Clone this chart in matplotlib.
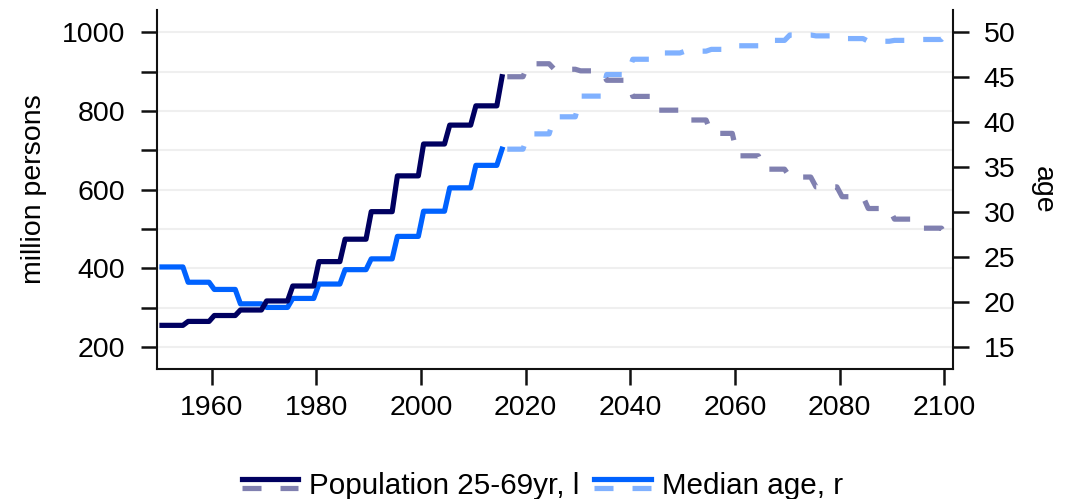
import numpy as np
import matplotlib
matplotlib.use("Agg")
import matplotlib.pyplot as plt
from matplotlib.legend_handler import HandlerBase
from matplotlib.lines import Line2D

plt.rcParams["font.family"] = ["Liberation Sans", "DejaVu Sans"]

# five-year period values (estimates up to 2015, projections afterwards)
PERIOD_START = np.arange(1950, 2101, 5)
POP_25_69 = [255, 265, 280, 294, 317, 355, 417, 474, 544, 635, 716, 764, 813,
             887, 920, 906, 902, 878, 837, 802, 777, 743, 686, 652, 632, 607,
             582, 552, 525, 502, 478]  # million persons
MEDIAN_AGE = [23.9, 22.2, 21.4, 19.8, 19.4, 20.4, 22.0, 23.6, 24.8, 27.3, 30.1,
              32.7, 35.2, 37.0, 38.7, 40.6, 42.9, 45.3, 47.0, 47.7, 47.9, 48.1,
              48.5, 49.1, 49.7, 49.6, 49.3, 49.0, 49.1, 49.2, 49.8]  # years
LAST_ACTUAL_YEAR = 2015

YEAR_TICKS = np.arange(1960, 2101, 20)
POP_TICKS = [200, 400, 600, 800, 1000]
POP_MINOR_TICKS = [300, 500, 700, 900]
AGE_TICKS = np.arange(15, 51, 5)

LABELS = ["Population 25-69yr, l", "Median age, r"]

NAVY = "#000060"
NAVY_LIGHT = "#8080b0"
BLUE = "#0062ff"
BLUE_LIGHT = "#80b1ff"
LW = 3.75
DASHES = (3.65, 3.65)
FS = 20.5
LEGEND_FS = 21.3


def annual(values):
    """Hold each period value for the five years of its period."""
    years = np.arange(PERIOD_START[0], PERIOD_START[-1] + 1)
    idx = (years - PERIOD_START[0]) // 5
    return years, np.asarray(values, dtype=float)[idx]


class SolidOverDashed(HandlerBase):
    """Legend key: estimate line on top, projection line underneath."""

    def create_artists(self, legend, orig_handle, xdescent, ydescent,
                       width, height, fontsize, trans):
        yc = (height - ydescent) / 2
        artists = []
        for line, dy in zip(orig_handle, (3.2, -3.2)):
            key = Line2D([-xdescent, -xdescent + width], [yc + dy, yc + dy])
            self.update_prop(key, line, legend)
            key.set_transform(trans)
            artists.append(key)
        return artists


years, pop = annual(POP_25_69)
_, age = annual(MEDIAN_AGE)
x = years + 0.5  # annual values sit at mid-year
act = years <= LAST_ACTUAL_YEAR
proj = years > LAST_ACTUAL_YEAR

fig = plt.figure(figsize=(10.67, 4.99), dpi=100)
ax = fig.add_axes([0.1469, 0.2605, 0.7458, 0.7195])
ax2 = ax.twinx()

# population drawn in the left-axis scale but on the twin, so it sits over the age lines
age_a, = ax2.plot(x[act], age[act], color=BLUE, lw=LW, zorder=2)
age_p, = ax2.plot(x[proj], age[proj], color=BLUE_LIGHT, lw=LW, dashes=DASHES, zorder=2)
pop_a, = ax2.plot(x[act], pop[act], color=NAVY, lw=LW, zorder=3, transform=ax.transData)
pop_p, = ax2.plot(x[proj], pop[proj], color=NAVY_LIGHT, lw=LW, dashes=DASHES,
                  zorder=3, transform=ax.transData)

ax.set_xlim(1949.5, 2101.6)
ax.set_ylim(144, 1056.7)
ax2.set_ylim(12.55, 52.48)

ax.set_xticks(YEAR_TICKS)
ax.set_yticks(POP_TICKS)
ax.set_yticks(POP_MINOR_TICKS, minor=True)
ax2.set_yticks(AGE_TICKS)

ax.grid(axis="y", which="both", color="#efefef", lw=1.5)
ax.set_axisbelow(True)

for s in ("top", "right"):
    ax.spines[s].set_visible(False)
for s in ("top", "left", "bottom"):
    ax2.spines[s].set_visible(False)
for sp in (ax.spines["left"], ax.spines["bottom"], ax2.spines["right"]):
    sp.set_linewidth(1.5)
    sp.set_color("#111111")

ax.tick_params(axis="both", which="both", direction="out", length=11.5, width=1.8,
               labelsize=FS, color="#111111")
ax.tick_params(axis="y", which="both", pad=11)
ax.tick_params(axis="x", pad=7.5)
ax2.tick_params(axis="y", direction="out", length=11.5, width=1.8, labelsize=FS,
                pad=11, color="#111111")

ax.set_ylabel("million persons", fontsize=FS, labelpad=11)
ax2.set_ylabel("age", fontsize=FS, rotation=270, va="bottom", labelpad=10)

fig.legend([(pop_a, pop_p), (age_a, age_p)], LABELS,
           loc="center", bbox_to_anchor=(0.5084, 0.027), ncol=2, frameon=False,
           fontsize=LEGEND_FS, handlelength=1.9, handletextpad=0.37, columnspacing=0.5,
           handler_map={tuple: SolidOverDashed()})

fig.savefig("out.png", dpi=100)
